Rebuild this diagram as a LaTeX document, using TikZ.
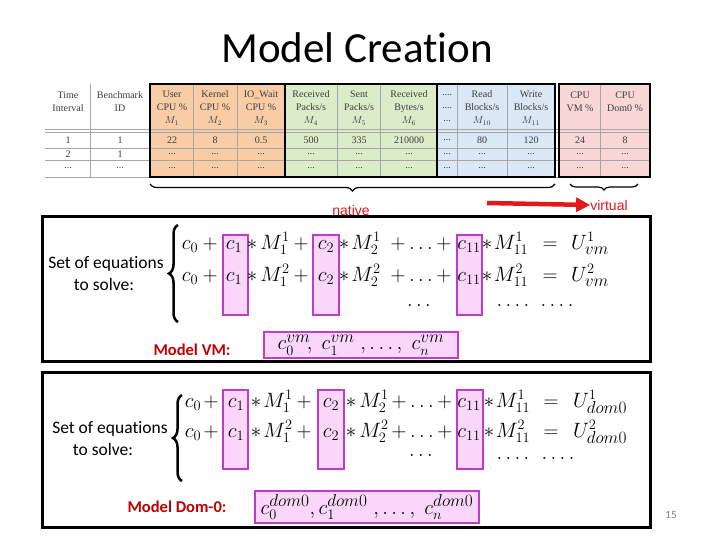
\documentclass[tikz,border=0pt]{standalone}
\usepackage[no-math]{fontspec}
\setmainfont{Carlito}[Ligatures=NoCommon]
\newfontfamily\tabfont{Liberation Serif}
\newfontfamily\arialfont{Liberation Sans}
\usetikzlibrary{arrows.meta,decorations.pathreplacing}
\definecolor{orangeF}{RGB}{248,205,165}
\definecolor{greenF}{RGB}{218,236,200}
\definecolor{blueF}{RGB}{218,232,245}
\definecolor{pinkF}{RGB}{250,215,215}
\definecolor{magB}{RGB}{190,60,200}
\definecolor{magF}{RGB}{250,215,250}
\definecolor{redT}{RGB}{192,0,0}
\definecolor{redA}{RGB}{225,25,25}
\definecolor{tabT}{RGB}{60,60,60}
\newcommand\tdots{...}
\newcommand\bsub[1]{\mbox{\fontsize{18}{18}\selectfont$#1$}}
\newcommand\msup[1]{\mbox{\fontsize{16}{16}\selectfont$#1$}}
\tikzset{
  eq/.style={anchor=base,inner sep=0pt,font=\fontsize{20}{24}\selectfont},
  colbox/.style={draw=magB,line width=2.5pt,fill=magF},
  frame/.style={draw=black,line width=3pt},
  grp/.style={draw=black,line width=1.8pt},
  grid/.style={draw=gray!70,line width=0.6pt},
  th/.style={align=center,inner sep=0pt,text=tabT,font=\tabfont\fontsize{10}{13}\selectfont},
  td/.style={inner sep=0pt,text=tabT,font=\tabfont\fontsize{10}{11}\selectfont},
  lbl/.style={align=center,inner sep=0pt,font=\fontsize{17.5}{21}\selectfont},
  mdl/.style={inner sep=0pt,text=redT,font=\bfseries\fontsize{16.5}{20}\selectfont},
  redlbl/.style={inner sep=0pt,text=redA,font=\arialfont\fontsize{14}{16}\selectfont},
  cbrace/.style={decorate,decoration={brace,amplitude=9pt},line width=2.5pt},
  tbrace/.style={decorate,decoration={brace,amplitude=7pt},line width=1.2pt}
}
\begin{document}
\begin{tikzpicture}[x=1pt,y=-1pt]
\useasboundingbox[fill=white] (0,0) rectangle (720,540);
% title
\node[inner sep=0pt,font=\fontsize{43}{48}\selectfont] (title) at (357,48) {Model Creation};
% table fills
\fill[orangeF] (150,84) rectangle (285,177);
\fill[greenF] (285,84) rectangle (437,177);
\fill[blueF] (437,84) rectangle (555,177);
\fill[pinkF] (559,84) rectangle (650,177);
% grid
\foreach \yy in {129,132,148,160,177} \draw[grid] (45,\yy) -- (650,\yy);
\foreach \xx in {90,193,237,337,380,457,507,600} \draw[grid] (\xx,84) -- (\xx,177);
% group frames
\draw[grp] (150,84) rectangle (285,177);
\draw[grp] (285,84) rectangle (437,177);
\draw[grp] (437,84) rectangle (555,177);
\draw[grp] (559,84) rectangle (650,177);
% headers
\node[th] (h1) at (68,101.5) {Time\\Interval};
\node[th] (h2) at (120,101.5) {Benchmark\\ID};
\node[th] (h3) at (172,108) {User\\CPU \%\\$M_1$};
\node[th] (h4) at (215,108) {Kernel\\CPU \%\\$M_2$};
\node[th] (h5) at (261,108) {IO\_Wait\\CPU \%\\$M_3$};
\node[th] (h6) at (311,108) {Received\\Packs/s\\$M_4$};
\node[th] (h7) at (359,108) {Sent\\Packs/s\\$M_5$};
\node[th] (h8) at (409,108) {Received\\Bytes/s\\$M_6$};
\node[th] (h9) at (447,108) {....\\....\\...};
\node[th] (h10) at (482,108) {Read\\Blocks/s\\$M_{10}$};
\node[th] (h11) at (531,108) {Write\\Blocks/s\\$M_{11}$};
\node[th] (h12) at (580,101.5) {CPU\\VM \%};
\node[th] (h13) at (625,101.5) {CPU\\Dom0 \%};
% data rows
\foreach \xx/\t [count=\i] in {68/1,120/1,172/22,215/8,261/0.5,311/500,359/335,409/210000,447/\tdots,482/80,531/120,580/24,625/8}
  \node[td] (ra\i) at (\xx,140) {\t};
\foreach \xx/\t [count=\i] in {68/2,120/1,172/\tdots,215/\tdots,261/\tdots,311/\tdots,359/\tdots,409/\tdots,447/\tdots,482/\tdots,531/\tdots,580/\tdots,625/\tdots}
  \node[td] (rb\i) at (\xx,154) {\t};
\foreach \xx [count=\i] in {68,120,172,215,261,311,359,409,447,482,531,580,625}
  \node[td] (rc\i) at (\xx,168) {\tdots};
% braces under table
\coordinate (nbR) at (555,184);
\coordinate (nbL) at (150,184);
\draw[tbrace] (nbR) -- (nbL);
\coordinate (vbR) at (638,184);
\coordinate (vbL) at (570,184);
\draw[tbrace,decoration={brace,amplitude=6pt}] (vbR) -- (vbL);
\node[redlbl] (native) at (351,210) {native};
\node[redlbl] (virtual) at (609,205) {virtual};
\coordinate (arS) at (487,203);
\draw[redA,line width=4.5pt,-{Triangle[length=14pt,width=14pt]}] (arS) -- (virtual.west);
% ---------- box 1 ----------
\draw[frame,fill=white] (42,217) rectangle (650,361);
\node[lbl] (s1a) at (106,264) {Set of equations};
\node[lbl] (s1b) at (104,284) {to solve:};
\coordinate (b1B) at (178,322);
\coordinate (b1T) at (178,225);
\draw[cbrace] (b1B) -- (b1T);
\draw[colbox] (223,235) rectangle (248,315);
\draw[colbox] (313,235) rectangle (339,315);
\draw[colbox] (457,235) rectangle (482,315);
\foreach \px/\tok [count=\i] in {190/{c_0},210/{+},234/{c_1},252/{*},275/{M_1^1},301/{+},326/{c_2},344/{*},366/{M_2^1},421/{+\ldots+},469/{c_{11}},487/{*},511/{M_{11}^1},550/{=},590/{U_{\bsub{vm}}^1}}
  \node[eq] (ea\i) at (\px,249) {$\tok$};
\foreach \px/\tok [count=\i] in {190/{c_0},210/{+},234/{c_1},252/{*},275/{M_1^2},301/{+},326/{c_2},344/{*},366/{M_2^2},421/{+\ldots+},469/{c_{11}},487/{*},511/{M_{11}^2},550/{=},590/{U_{\bsub{vm}}^2}}
  \node[eq] (eb\i) at (\px,281) {$\tok$};
\node[eq] (ed1) at (419,306) {$\ldots$};
\node[eq] (ed2) at (513,306) {$\ldots.$};
\node[eq] (ed3) at (557,306) {$\ldots.$};
\node[mdl] (mvm) at (192,350) {Model VM:};
\node[colbox,minimum width=194pt,minimum height=26pt,inner sep=0pt] (vmbox) at (361,345) {};
\node[eq,anchor=center,font=\fontsize{21}{24}\selectfont] (vmtxt) at (vmbox.center) {$c_0^{\msup{vm}}\!,\;c_1^{\msup{vm}}\;,\ldots,\;c_n^{\msup{vm}}$};
% ---------- box 2 ----------
\draw[frame,fill=white] (42,372) rectangle (650,527);
\node[lbl] (s2a) at (110,429) {Set of equations};
\node[lbl] (s2b) at (103,449) {to solve:};
\coordinate (b2B) at (182,481);
\coordinate (b2T) at (182,395);
\draw[cbrace] (b2B) -- (b2T);
\draw[colbox] (223,390) rectangle (248,469);
\draw[colbox] (318,390) rectangle (344,469);
\draw[colbox] (457,390) rectangle (483,469);
\foreach \px/\tok [count=\i] in {193/{c_0},211/{+},236/{c_1},256/{*},278/{M_1^1},304/{+},331/{c_2},351/{*},374/{M_2^1},422/{+\ldots+},469/{c_{11}},489/{*},513/{M_{11}^1},551/{=},600/{U_{\bsub{dom0}}^1}}
  \node[eq] (fa\i) at (\px,407) {$\tok$};
\foreach \px/\tok [count=\i] in {193/{c_0},211/{+},236/{c_1},256/{*},278/{M_1^2},304/{+},331/{c_2},351/{*},374/{M_2^2},422/{+\ldots+},469/{c_{11}},489/{*},513/{M_{11}^2},551/{=},600/{U_{\bsub{dom0}}^2}}
  \node[eq] (fb\i) at (\px,437) {$\tok$};
\node[eq] (fd1) at (421,456) {$\ldots$};
\node[eq] (fd2) at (513,459) {$\ldots.$};
\node[eq] (fd3) at (558,459) {$\ldots.$};
\node[mdl] (mdom) at (177,507) {Model Dom-0:};
\node[colbox,minimum width=224pt,minimum height=32pt,inner sep=0pt] (dmbox) at (367,507) {};
\node[eq,anchor=center,font=\fontsize{21}{24}\selectfont] (dmtxt) at (dmbox.center) {$c_0^{\msup{dom0}},c_1^{\msup{dom0}}\;,\ldots,\;c_n^{\msup{dom0}}$};
% page number
\node[inner sep=0pt,text=gray,font=\fontsize{11}{13}\selectfont] (pg) at (671,515) {15};
\end{tikzpicture}
\end{document}
